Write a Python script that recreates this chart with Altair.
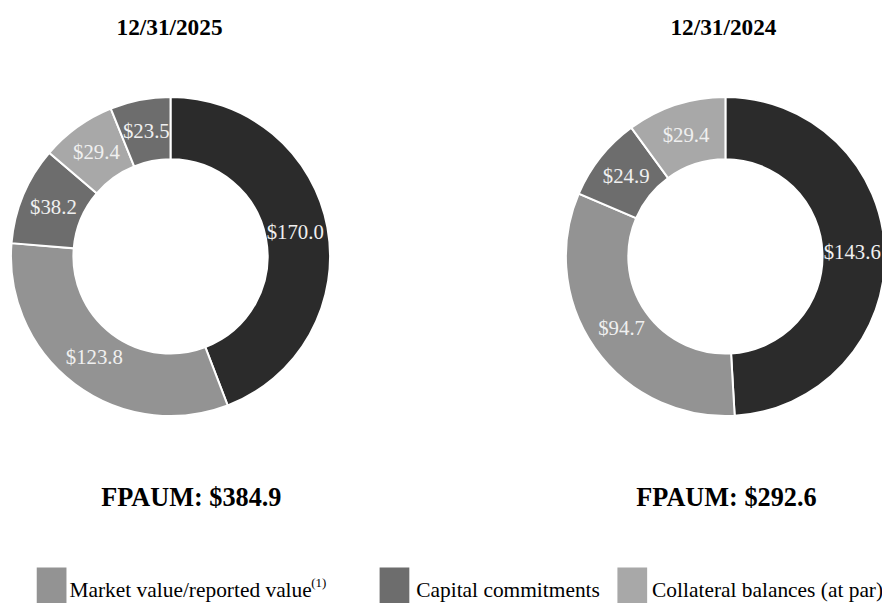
import altair as alt
import pandas as pd

# ---- data ----
dates = ["12/31/2025", "12/31/2024"]
categories_2025 = ["Invested capital/other", "Market value/reported value", "Capital commitments",
                   "Collateral balances (at par)", "Other"]
values_2025 = [170.0, 123.8, 38.2, 29.4, 23.5]
categories_2024 = ["Invested capital/other", "Market value/reported value", "Capital commitments",
                   "Collateral balances (at par)"]
values_2024 = [143.6, 94.7, 24.9, 29.4]
legend_labels = ["Market value/reported value", "Capital commitments", "Collateral balances (at par)"]
legend_note = "(1)"

# ---- styles ----
palette = {
    "Invested capital/other": "#2b2b2b",
    "Market value/reported value": "#939393",
    "Capital commitments": "#6d6d6d",
    "Collateral balances (at par)": "#a8a8a8",
    "Other": "#6d6d6d",
}
FONT = "Liberation Serif"


def donut(cats, vals, cx, cy):
    df = pd.DataFrame({"category": cats, "value": vals, "idx": list(range(len(cats)))})
    df["label"] = df["value"].map(lambda v: f"${v:.1f}")
    df["color"] = df["category"].map(palette)
    base = alt.Chart(df).encode(
        theta=alt.Theta("value:Q", stack=True),
        order=alt.Order("idx:Q"),
        x=alt.value(cx),
        y=alt.value(cy),
    )
    arcs = base.mark_arc(innerRadius=98, outerRadius=161, stroke="white", strokeWidth=2).encode(
        color=alt.Color("color:N", scale=None)
    )
    text = base.mark_text(radius=128, font=FONT, fontSize=21, color="#f0f0f0",
                          align="center", baseline="middle").encode(text="label:N")
    return alt.layer(arcs, text)


def label(txt, x, y, size, bold=False, align="center"):
    return alt.Chart(pd.DataFrame({"t": [txt]})).mark_text(
        font=FONT, fontSize=size, fontWeight="bold" if bold else "normal",
        color="#000000", align=align, baseline="alphabetic"
    ).encode(text="t:N", x=alt.value(x), y=alt.value(y))


def swatch(cat, x0, y0):
    return alt.Chart(pd.DataFrame({"c": [cat]})).mark_rect(color=palette[cat]).encode(
        x=alt.value(x0), x2=alt.value(x0 + 30), y=alt.value(y0), y2=alt.value(y0 + 42)
    )


total_2025 = round(sum(values_2025), 1)
total_2024 = round(sum(values_2024), 1)

d1 = donut(categories_2025, values_2025, 164, 248)
d2 = donut(categories_2024, values_2024, 724, 248)

layers = [
    d1, d2,
    label(dates[0], 163, 25, 23.5, bold=True),
    label(dates[1], 722, 25, 23.5, bold=True),
    label(f"FPAUM: ${total_2025:.1f}", 185, 500, 26.5, bold=True),
    label(f"FPAUM: ${total_2024:.1f}", 725, 500, 26.5, bold=True),
    swatch(legend_labels[0], 29, 562),
    swatch(legend_labels[1], 375, 562),
    swatch(legend_labels[2], 615, 562),
    label(legend_labels[0], 62, 592, 21.6, align="left"),
    label(legend_note, 306, 582, 13, align="left"),
    label(legend_labels[1], 412, 592, 21.6, align="left"),
    label(legend_labels[2], 650, 592, 21.6, align="left"),
]

chart = alt.layer(*layers).resolve_scale(theta="independent").properties(
    width=882, height=595, padding=0, autosize="none"
).configure_view(stroke=None)

chart.save("out.html", embed_options={"renderer": "svg", "actions": False})
